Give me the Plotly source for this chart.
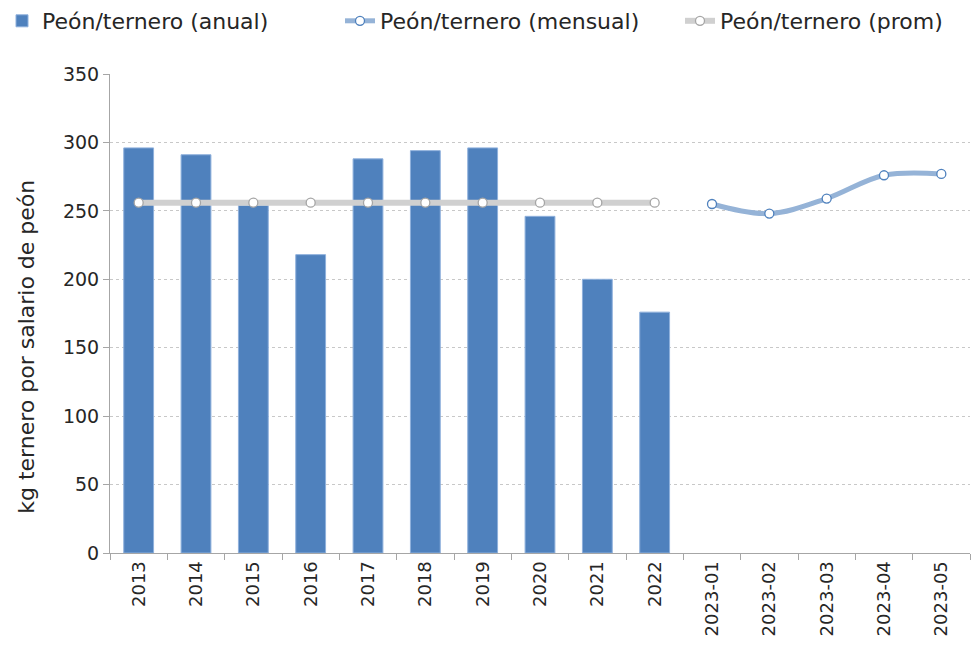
import plotly.graph_objects as go

# Categories and values
years = ["2013", "2014", "2015", "2016", "2017", "2018", "2019", "2020", "2021", "2022"]
months = ["2023-01", "2023-02", "2023-03", "2023-04", "2023-05"]
anual = [296, 291, 254, 218, 288, 294, 296, 246, 200, 176]
mensual = [255, 248, 259, 276, 277]
promedio = [256] * len(years)

categories = years + months
font_family = "'DejaVu Sans', sans-serif"
W, H = 973, 661

fig = go.Figure()

fig.add_trace(go.Bar(
    x=years, y=anual, name="Peón/ternero (anual)",
    marker=dict(color="#4f81bd", line=dict(color="#8eb0dc", width=1)),
    width=0.52, legend="legend",
))

fig.add_trace(go.Scatter(
    x=months, y=mensual, name="Peón/ternero (mensual)",
    mode="lines+markers",
    line=dict(color="#95b3d7", width=5, shape="spline"),
    marker=dict(symbol="circle", size=9, color="white",
                line=dict(color="#4f81bd", width=1.3)),
    legend="legend2",
))

fig.add_trace(go.Scatter(
    x=years, y=promedio, name="Peón/ternero (prom)",
    mode="lines+markers",
    line=dict(color="#d0d0d0", width=6),
    marker=dict(symbol="circle", size=9, color="white",
                line=dict(color="#a6a6a6", width=1.3)),
    legend="legend3",
))

# Axis title placed as rotated annotation
fig.add_annotation(
    text="kg ternero por salario de peón", textangle=-90,
    xref="paper", yref="paper", x=-0.098, y=0.43,
    xanchor="center", yanchor="middle", showarrow=False,
    font=dict(size=22, color="#262626"),
)


def legend_box(px_left):
    return dict(orientation="h", xref="container", yref="container",
                x=px_left / W, xanchor="left", y=1.0, yanchor="top",
                font=dict(size=22), bgcolor="rgba(0,0,0,0)")


fig.update_layout(
    width=W, height=H,
    margin=dict(l=110, r=3, t=74, b=108, autoexpand=False),
    plot_bgcolor="white", paper_bgcolor="white",
    font=dict(family=font_family, size=18, color="#262626"),
    showlegend=True,
    legend=legend_box(2),
    legend2=legend_box(340),
    legend3=legend_box(680),
    bargap=0.48,
    xaxis=dict(
        categoryorder="array", categoryarray=categories,
        range=[-0.5, len(categories) - 0.5],
        tickangle=-90, tickfont=dict(size=18),
        showline=True, linecolor="#a6a6a6", linewidth=1,
        ticks="outside", ticklen=6, tickcolor="#a6a6a6",
        tickson="boundaries", showgrid=False,
    ),
    yaxis=dict(
        range=[0, 350], dtick=50,
        tickfont=dict(size=19),
        showline=True, linecolor="#a6a6a6", linewidth=1,
        ticks="outside", ticklen=6, tickcolor="#a6a6a6",
        showgrid=True, gridcolor="#c8c8c8", griddash="dot", gridwidth=1,
        zeroline=False,
    ),
)

fig.write_html("out.html")
